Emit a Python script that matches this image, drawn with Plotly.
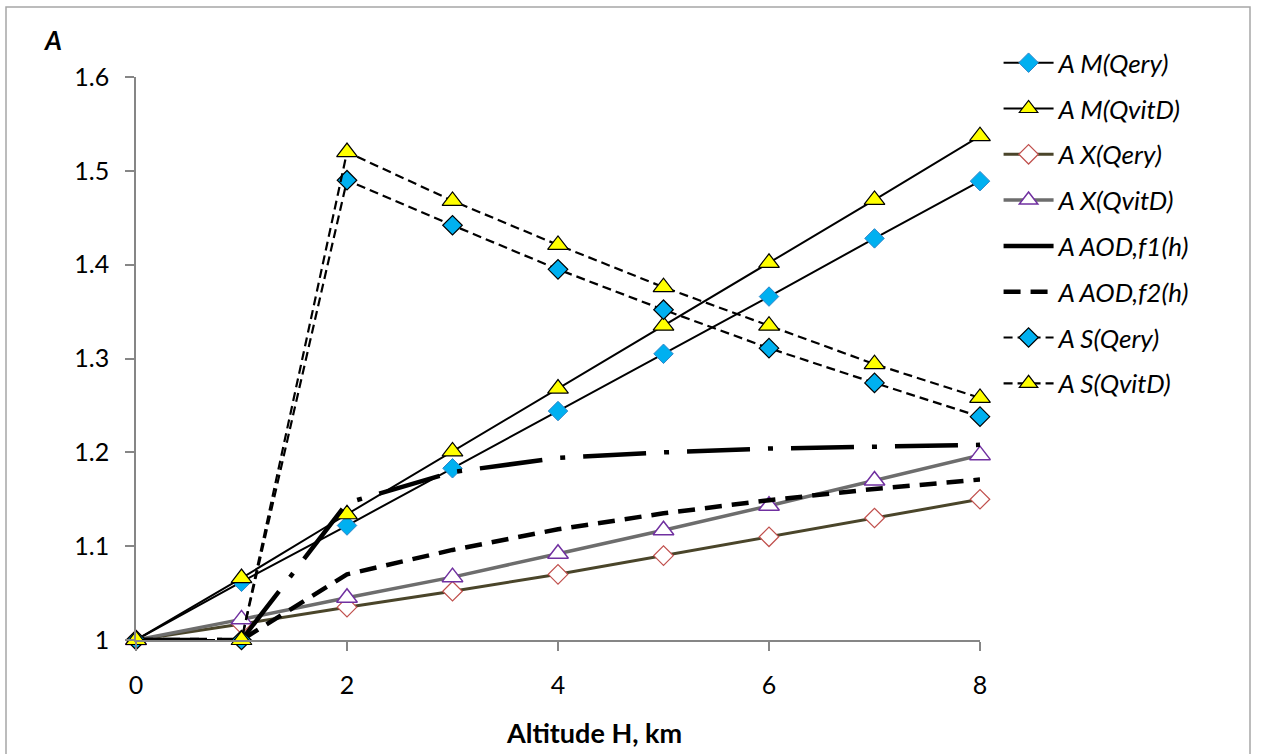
import plotly.graph_objects as go

altitude = [0, 1, 2, 3, 4, 5, 6, 7, 8]

series_names = ["A M(Qery)", "A M(QvitD)", "A X(Qery)", "A X(QvitD)",
                "A AOD,f1(h)", "A AOD,f2(h)", "A S(Qery)", "A S(QvitD)"]

m_qery = [1.0, 1.062, 1.122, 1.183, 1.244, 1.305, 1.366, 1.428, 1.489]
m_qvitd = [1.0, 1.066, 1.134, 1.201, 1.268, 1.335, 1.402, 1.469, 1.537]
x_qery = [1.0, 1.017, 1.035, 1.052, 1.070, 1.090, 1.110, 1.130, 1.150]
x_qvitd = [1.0, 1.022, 1.045, 1.067, 1.092, 1.117, 1.143, 1.170, 1.197]
aod_f1 = [1.0, 1.0, 1.146, 1.179, 1.194, 1.200, 1.204, 1.206, 1.208]
aod_f2 = [1.0, 1.0, 1.070, 1.096, 1.118, 1.135, 1.149, 1.161, 1.171]
s_qery = [1.0, 1.0, 1.490, 1.442, 1.395, 1.352, 1.311, 1.274, 1.238]
s_qvitd = [1.0, 1.0, 1.520, 1.468, 1.421, 1.376, 1.335, 1.294, 1.258]

y_ticks = [1.0, 1.1, 1.2, 1.3, 1.4, 1.5, 1.6]
y_tick_labels = ["1", "1.1", "1.2", "1.3", "1.4", "1.5", "1.6"]
x_ticks = [0, 2, 4, 6, 8]

FONT = "Lato"

styles = [
    dict(line=dict(color="black", width=2),
         marker=dict(symbol="diamond", size=15, color="#00b0f0", line=dict(color="#2f85c8", width=1))),
    dict(line=dict(color="black", width=2),
         marker=dict(symbol="triangle-up", size=18, color="#ffff00", line=dict(color="black", width=1.2))),
    dict(line=dict(color="#4a452a", width=3),
         marker=dict(symbol="diamond", size=15, color="white", line=dict(color="#c0504d", width=1.2))),
    dict(line=dict(color="#6d6d6d", width=3.5),
         marker=dict(symbol="triangle-up", size=18, color="white", line=dict(color="#7030a0", width=1.5))),
    dict(line=dict(color="black", width=4.5, dash="63px,18px,5px,18px"), mode="lines"),
    dict(line=dict(color="black", width=4.5, dash="17px,10px"), mode="lines"),
    dict(line=dict(color="black", width=2.2, dash="9px,5px"),
         marker=dict(symbol="diamond", size=15, color="#00b0f0", line=dict(color="black", width=1.2))),
    dict(line=dict(color="black", width=2.2, dash="9px,5px"),
         marker=dict(symbol="triangle-up", size=18, color="#ffff00", line=dict(color="black", width=1.2))),
]

data = [m_qery, m_qvitd, x_qery, x_qvitd, aod_f1, aod_f2, s_qery, s_qvitd]

fig = go.Figure()
for i, (name, ys, st) in enumerate(zip(series_names, data, styles)):
    kw = dict(st)
    mode = kw.pop("mode", "lines+markers")
    fig.add_trace(go.Scatter(x=altitude, y=ys, name=name, mode=mode,
                             legendgroup=f"g{i}", cliponaxis=False, **kw))

fig.update_layout(
    width=1261, height=754,
    margin=dict(l=136, r=281, t=77, b=114),
    paper_bgcolor="white", plot_bgcolor="white",
    font=dict(family=FONT, size=25, color="black"),
    showlegend=True,
    legend=dict(x=1.022, y=1.067, xanchor="left", yanchor="top",
                font=dict(family=FONT, size=26, style="italic"),
                tracegroupgap=9, traceorder="grouped", itemwidth=50,
                maxheight=740, bgcolor="rgba(0,0,0,0)"),
    xaxis=dict(range=[0, 8], tickvals=x_ticks, showgrid=False, zeroline=False,
               showline=True, linecolor="#868686", linewidth=1.5,
               ticks="outside", ticklen=9, tickcolor="#868686", tickwidth=1.5,
               ticklabelstandoff=13, tickfont=dict(size=25)),
    yaxis=dict(range=[1, 1.6], tickvals=y_ticks, ticktext=y_tick_labels,
               showgrid=False, zeroline=False,
               showline=True, linecolor="#868686", linewidth=1.5,
               ticks="outside", ticklen=9, tickcolor="#868686", tickwidth=1.5,
               ticklabelstandoff=11, tickfont=dict(size=25)),
    annotations=[
        dict(text="<b><i>A</i></b>", xref="paper", yref="paper",
             x=(52 - 136) / 844, y=(640 - 40) / 563, xanchor="center", yanchor="middle",
             showarrow=False, font=dict(size=26)),
        dict(text="<b>Altitude H, km</b>", xref="paper", yref="paper",
             x=(594 - 136) / 844, y=(640 - 732) / 563, xanchor="center", yanchor="middle",
             showarrow=False, font=dict(size=27)),
    ],
    shapes=[
        dict(type="rect", xref="paper", yref="paper",
             x0=(6 - 136) / 844, x1=(1250 - 136) / 844,
             y0=(640 - 760) / 563, y1=(640 - 7) / 563,
             line=dict(color="#a6a6a6", width=1.5), fillcolor="rgba(0,0,0,0)", layer="below"),
    ],
)

fig.write_html("out.html")
